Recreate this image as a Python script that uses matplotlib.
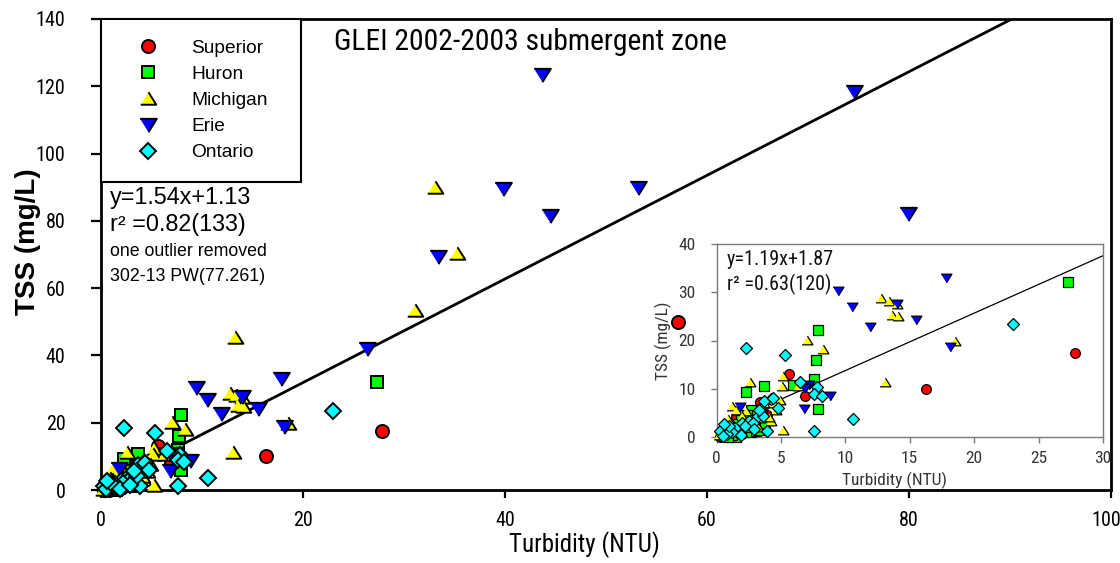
import matplotlib
matplotlib.use("Agg")
import matplotlib.pyplot as plt
import matplotlib.transforms as mtransforms
from matplotlib import font_manager as fm
from matplotlib.font_manager import FontProperties
import numpy as np

# ---------------- data (Turbidity NTU, TSS mg/L) ----------------
superior_x = [0.3, 0.8, 1.1, 1.6, 2.0, 1.5, 3.2, 3.4, 3.6, 3.9, 2.6, 5.6, 6.9, 16.3, 27.8,
              0.5, 1.3, 2.4, 57.1]
superior_y = [0.1, 0.0, 0.3, 0.8, 0.6, 4.1, 2.6, 7.3, 6.3, 4.6, 3.0, 13.1, 8.4, 10.0, 17.5,
              0.5, 1.9, 1.5, 49.9]

huron_x = [27.3, 7.9, 7.7, 7.6, 3.7, 5.9, 2.3, 2.7, 7.9, 2.7, 3.1, 1.5, 1.2, 2.2, 1.9, 2.9,
           3.4, 0.6, 2.4, 1.0, 0.9, 1.7, 3.8]
huron_y = [32.2, 22.2, 16.0, 12.0, 10.6, 10.8, 9.3, 5.6, 5.8, 1.1, 1.3, 0.1, 0.4, 2.0, 3.5, 2.4,
           1.5, 0.3, 4.6, 1.2, 0.0, 2.6, 3.0]

michigan_x = [12.8, 13.4, 14.0, 13.6, 14.1, 18.5, 7.0, 8.3, 2.6, 13.1, 5.2, 5.1, 6.3, 4.9, 4.5,
              3.7, 3.5, 1.2, 1.5, 2.3, 4.2, 5.2, 1.1, 0.7, 0.3, 3.7, 4.1, 3.2, 0.5, 2.0, 0.9,
              3.4, 0.2, 1.6, 2.7, 4.6, 33.1, 35.2, 31.1, 13.3]
michigan_y = [28.9, 28.2, 27.6, 25.3, 25.1, 19.8, 20.2, 18.2, 11.3, 11.3, 12.6, 10.6, 10.6, 7.7, 7.1,
              7.1, 6.1, 6.4, 5.6, 5.3, 3.3, 1.5, 3.2, 2.5, 1.8, 5.0, 4.2, 2.1, 0.8, 4.4, 3.7,
              4.0, 0.4, 2.3, 3.8, 5.6, 90.2, 70.5, 53.5, 45.4]

erie_x = [9.4, 17.8, 10.5, 14.0, 15.5, 11.9, 18.1, 1.8, 6.8, 7.2, 6.9, 8.8,
          43.7, 74.6, 39.8, 53.2, 44.5, 79.9, 33.4, 26.3]
erie_y = [30.3, 32.9, 26.9, 27.6, 24.2, 22.7, 18.6, 6.3, 5.7, 10.8, 10.2, 8.6,
          123.4, 118.2, 89.4, 89.9, 81.5, 82.0, 69.3, 41.9]

ontario_x = [23.0, 2.3, 5.3, 6.5, 7.8, 7.6, 8.2, 4.2, 3.1, 2.5, 2.0, 1.6, 0.3, 3.9, 7.6, 10.6,
             1.4, 2.8, 1.2, 0.8, 3.6, 3.7, 4.4, 2.2, 0.5, 1.0, 1.9, 2.9, 0.6, 4.8, 3.3]
ontario_y = [23.4, 18.5, 17.0, 11.5, 10.3, 8.9, 8.4, 7.8, 3.9, 3.3, 2.8, 1.0, 1.3, 1.3, 1.3, 3.7,
             1.8, 2.9, 1.1, 0.6, 4.3, 7.4, 8.0, 2.2, 0.2, 2.2, 0.4, 1.6, 2.6, 6.0, 5.6]

series_names = ["Superior", "Huron", "Michigan", "Erie", "Ontario"]

main_slope, main_icpt = 1.54, 1.13
inset_slope, inset_icpt = 1.19, 1.87

# ---------------- fonts ----------------
entries = fm.fontManager.ttflist
names = {f.name for f in entries}
narrow = None
for cand in ["Liberation Sans Narrow", "Arial Narrow", "Roboto Condensed",
             "Open Sans Condensed", "Noto Sans Condensed"]:
    if cand in names:
        narrow = dict(family=[cand, "DejaVu Sans"], stretch="normal")
        break
if narrow is None:
    for f in entries:
        if f.name in ("DejaVu Sans", "Noto Sans", "Open Sans", "Roboto") and \
                f.stretch in ("condensed", "semi-condensed") and f.weight in (400, "normal", "regular"):
            narrow = dict(family=[f.name], stretch=f.stretch)
            break
if narrow is None:
    narrow = dict(family=["Liberation Sans", "DejaVu Sans"], stretch="normal")
    NF = 0.84
else:
    NF = 1.0


def NP(size, **kw):
    return FontProperties(family=narrow["family"], stretch=narrow["stretch"], size=size * NF, **kw)


def RP(size, **kw):
    return FontProperties(family=["Liberation Sans", "DejaVu Sans"], size=size, **kw)


tri_down = [(-1, 0.8), (1, 0.8), (0, -0.8)]
tri_up = [(-1, -0.8), (1, -0.8), (0, 0.8)]

styles = {
    "Superior": dict(marker="o", color="#FF0000", ms=9.4, ms2=7.0),
    "Huron": dict(marker="s", color="#00FF00", ms=8.4, ms2=7.0),
    "Michigan": dict(marker=tri_up, color="#FFFF00", ms=11.2, ms2=7.8),
    "Erie": dict(marker=tri_down, color="#0000FF", ms=12.0, ms2=7.8),
    "Ontario": dict(marker="D", color="#00FFFF", ms=8.0, ms2=6.6),
}
data = {
    "Superior": (superior_x, superior_y),
    "Huron": (huron_x, huron_y),
    "Michigan": (michigan_x, michigan_y),
    "Erie": (erie_x, erie_y),
    "Ontario": (ontario_x, ontario_y),
}

W, H = 1120, 563
fig = plt.figure(figsize=(W / 100, H / 100), dpi=100)

# ---------------- main axes ----------------
L, R, T, B = 101, 1111, 19, 490
ax = fig.add_axes([L / W, (H - B) / H, (R - L) / W, (B - T) / H])
ax.set_xlim(0, 100)
ax.set_ylim(0, 140)
for s in ax.spines.values():
    s.set_linewidth(2.0)
ax.set_xticks([0, 20, 40, 60, 80, 100])
ax.set_yticks([0, 20, 40, 60, 80, 100, 120, 140])
ax.tick_params(axis="x", direction="out", length=6, width=1.6, pad=9)
ax.tick_params(axis="y", direction="out", length=7.5, width=1.6, pad=18)
for lbl in ax.get_xticklabels() + ax.get_yticklabels():
    lbl.set_fontproperties(NP(14.5))
last = ax.get_xticklabels()[-1]
last.set_transform(last.get_transform() + mtransforms.ScaledTranslation(-5 / 100, 0, fig.dpi_scale_trans))

x0 = 7.8
x1 = (140 - main_icpt) / main_slope
xs = np.array([x0, x1])
ax.plot(xs, main_slope * xs + main_icpt, color="black", lw=2.0, zorder=2)

handles = []
for name in series_names:
    st = styles[name]
    x, y = data[name]
    ln, = ax.plot(x, y, linestyle="none", marker=st["marker"], markersize=st["ms"],
                  markerfacecolor=st["color"], markeredgecolor="black",
                  markeredgewidth=1.4, clip_on=False, zorder=3, label=name)
    handles.append(ln)

ax.set_xlabel("Turbidity (NTU)", fontproperties=NP(18))
ax.xaxis.set_label_coords((584 - L) / (R - L), (B - 545) / (B - T))
ax.xaxis.label.set_va("center")
ax.set_ylabel("TSS (mg/L)", fontproperties=RP(20, weight="bold"))
ax.yaxis.set_label_coords((28 - L) / (R - L), (B - 242) / (B - T))
ax.yaxis.label.set_va("center")

leg = ax.legend(handles=handles, loc="upper left",
                bbox_to_anchor=(0, 1 - 157 / (B - T), 200 / (R - L), 157 / (B - T)),
                mode="expand", borderaxespad=0, fancybox=False, framealpha=1,
                edgecolor="black", prop=RP(13.8),
                borderpad=1.05, handlelength=2.8, handletextpad=0.85, labelspacing=0.46)
leg.get_frame().set_linewidth(1.5)
leg.set_zorder(5)

ax.text((334 - L) / (R - L), (B - 50) / (B - T), "GLEI 2002-2003 submergent zone",
        transform=ax.transAxes, fontproperties=NP(21.3), ha="left", va="baseline")
ax.text((110 - L) / (R - L), (B - 204) / (B - T), "y=1.54x+1.13",
        transform=ax.transAxes, fontproperties=RP(16.8), ha="left", va="baseline")
ax.text((110 - L) / (R - L), (B - 231) / (B - T), "r² =0.82(133)",
        transform=ax.transAxes, fontproperties=RP(16.8), ha="left", va="baseline")
ax.text((110 - L) / (R - L), (B - 256) / (B - T), "one outlier removed",
        transform=ax.transAxes, fontproperties=RP(12.8), ha="left", va="baseline")
ax.text((110 - L) / (R - L), (B - 281) / (B - T), "302-13 PW(77.261)",
        transform=ax.transAxes, fontproperties=RP(12.8), ha="left", va="baseline")

# ---------------- inset axes ----------------
iL, iR, iT, iB = 716.5, 1103, 244, 437
ax2 = fig.add_axes([iL / W, (H - iB) / H, (iR - iL) / W, (iB - iT) / H], zorder=4)
ax2.set_facecolor("white")
ax2.set_xlim(0, 30)
ax2.set_ylim(0, 40)
for s in ax2.spines.values():
    s.set_linewidth(1.0)
    s.set_color("#7a7a7a")
ax2.set_xticks([0, 5, 10, 15, 20, 25, 30])
ax2.set_yticks([0, 10, 20, 30, 40])
ax2.tick_params(direction="out", length=4, width=1.0, color="#7a7a7a", labelcolor="#333333")
ax2.tick_params(axis="x", pad=6)
ax2.tick_params(axis="y", pad=11)
for lbl in ax2.get_xticklabels() + ax2.get_yticklabels():
    lbl.set_fontproperties(NP(12.5))

xs2 = np.array([4.0, 30.0])
ax2.plot(xs2, inset_slope * xs2 + inset_icpt, color="black", lw=0.9, zorder=2)

for name in series_names:
    st = styles[name]
    x, y = np.array(data[name][0]), np.array(data[name][1])
    m = (x <= 30) & (y <= 40)
    ax2.plot(x[m], y[m], linestyle="none", marker=st["marker"], markersize=st["ms2"],
             markerfacecolor=st["color"], markeredgecolor="black",
             markeredgewidth=0.9, clip_on=False, zorder=3)

ax2.set_xlabel("Turbidity (NTU)", fontproperties=NP(12.5), color="#333333")
ax2.xaxis.set_label_coords((895 - iL) / (iR - iL), (iB - 485) / (iB - iT))
ax2.xaxis.label.set_va("baseline")
ax2.set_ylabel("TSS (mg/L)", fontproperties=NP(12.5), color="#333333")
ax2.yaxis.set_label_coords((663 - iL) / (iR - iL), 0.5)
ax2.yaxis.label.set_va("center")

ax2.text((727 - iL) / (iR - iL), (iB - 265) / (iB - iT), "y=1.19x+1.87",
         transform=ax2.transAxes, fontproperties=NP(14.5), ha="left", va="baseline", color="#111111")
ax2.text((727 - iL) / (iR - iL), (iB - 290) / (iB - iT), "r² =0.63(120)",
         transform=ax2.transAxes, fontproperties=NP(14.5), ha="left", va="baseline", color="#111111")

fig.savefig("out.png", dpi=100)
